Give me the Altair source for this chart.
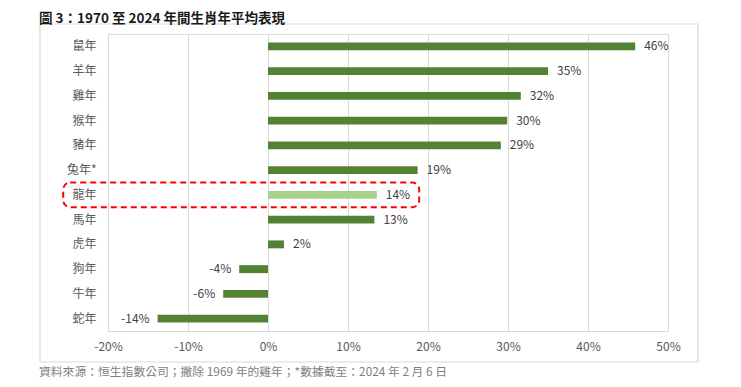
import altair as alt
import pandas as pd

categories = ["鼠年", "羊年", "雞年", "猴年", "豬年", "兔年*", "龍年", "馬年", "虎年", "狗年", "牛年", "蛇年"]
values = [45.9, 35.0, 31.6, 29.9, 29.1, 18.7, 13.6, 13.3, 2.0, -3.6, -5.6, -13.8]
highlight = [c == "龍年" for c in categories]
x_ticks = [-20, -10, 0, 10, 20, 30, 40, 50]

title_text = "圖 3：1970 至 2024 年間生肖年平均表現"
note_text = "資料來源：恒生指數公司；撇除 1969 年的雞年；*數據截至：2024 年 2 月 6 日"

# highlight box around the dragon row (in data units on x)
box_cat = ["龍年"]
box_x = [-25.6]
box_x2 = [18.9]

df = pd.DataFrame({"cat": categories, "val": values, "hl": highlight})
df["lab"] = df["val"].round().astype(int).astype(str) + "%"
box_df = pd.DataFrame({"cat": box_cat, "x": box_x, "x2": box_x2})

FONT = "Noto Sans CJK TC"

yenc = alt.Y("cat:N", sort=categories,
             scale=alt.Scale(paddingInner=0, paddingOuter=0),
             axis=alt.Axis(title=None, ticks=False, domain=False, labelPadding=12,
                           labelFontSize=12, labelColor="#595959", labelFont=FONT))
xscale = alt.Scale(domain=[-20, 50], nice=False, zero=False)
xenc = alt.X("val:Q", scale=xscale,
             axis=alt.Axis(title=None, values=x_ticks, labelExpr="datum.value + '%'",
                           ticks=False, domain=True, domainColor="#d9d9d9",
                           grid=True, gridColor="#d9d9d9", gridWidth=1, labelFlush=False,
                           labelPadding=10, labelFontSize=12, labelColor="#595959",
                           labelFont=FONT))

base = alt.Chart(df)

bars = base.mark_bar(height={"band": 0.32}).encode(
    x=xenc,
    x2=alt.datum(0),
    y=yenc,
    color=alt.Color("hl:N", scale=alt.Scale(domain=[False, True], range=["#548235", "#a9d18e"]), legend=None),
)

pos_labels = base.transform_filter("datum.val >= 0").mark_text(
    align="left", dx=9, fontSize=12, color="#404040", font=FONT
).encode(x=alt.X("val:Q", scale=xscale), y=alt.Y("cat:N", sort=categories), text="lab:N")

neg_labels = base.transform_filter("datum.val < 0").mark_text(
    align="right", dx=-8, fontSize=12, color="#404040", font=FONT
).encode(x=alt.X("val:Q", scale=xscale), y=alt.Y("cat:N", sort=categories), text="lab:N")

box = alt.Chart(box_df).mark_rect(
    fill=None, stroke="#ff0000", strokeWidth=2, strokeDash=[6, 4], cornerRadius=7, clip=False
).encode(x=alt.X("x:Q", scale=xscale), x2="x2:Q", y=alt.Y("cat:N", sort=categories))

frame = alt.Chart(pd.DataFrame({"a": [0]})).mark_rect(
    fill=None, stroke="#d9d9d9", strokeWidth=1.2, clip=False
).encode(x=alt.value(-68), x2=alt.value(590), y=alt.value(-10), y2=alt.value(328))

title = alt.Chart(pd.DataFrame({"t": [title_text]})).mark_text(
    align="left", baseline="middle", fontSize=13.5, fontWeight="bold", color="#1a1a1a", font=FONT
).encode(x=alt.value(-69), y=alt.value(-15), text="t:N")

note = alt.Chart(pd.DataFrame({"t": [note_text]})).mark_text(
    align="left", baseline="middle", fontSize=11.8, color="#808080", font=FONT
).encode(x=alt.value(-69), y=alt.value(338), text="t:N")

chart = alt.layer(frame, bars, pos_labels, neg_labels, box, title, note).properties(
    width=560, height=297,
    padding={"left": 100, "top": 26, "right": 65, "bottom": 48},
    autosize=alt.AutoSizeParams(type="none"),
).configure_view(stroke=None).configure(background="white")

chart.save("out.html", embed_options={"renderer": "svg", "actions": False})
